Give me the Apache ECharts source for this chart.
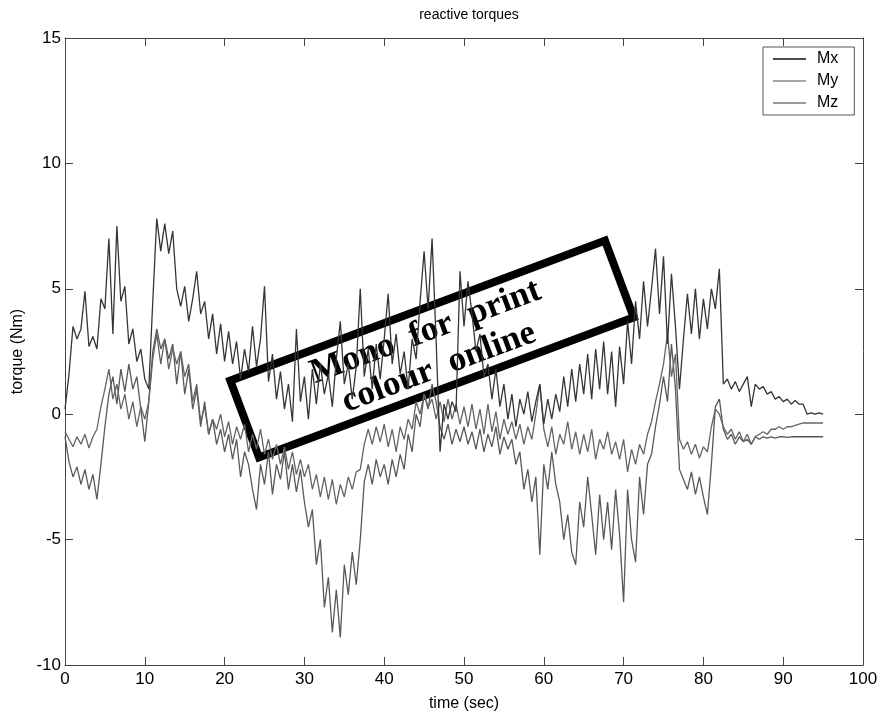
<!DOCTYPE html>
<html>
<head>
<meta charset="utf-8">
<title>reactive torques</title>
<script src="https://cdn.jsdelivr.net/npm/echarts@6/dist/echarts.min.js"></script>
<style>
  html, body { margin: 0; padding: 0; background: #fff; }
  #chart { width: 881px; height: 719px; }
</style>
</head>
<body>
<div id="chart"></div>
<script>
// 采样步长 (sec)
const STEP = 0.5

// x 轴刻度
const xTicks = [0, 10, 20, 30, 40, 50, 60, 70, 80, 90, 100]
// y 轴刻度
const yTicks = [-10, -5, 0, 5, 10, 15]

const seriesNames = ['Mx', 'My', 'Mz']

// Mx, 每行 5 秒
const mx = [
  0.2, 1.6, 3.5, 3.0, 3.4, 4.9, 2.7, 3.1, 2.6, 4.6,
  4.2, 7.0, 3.2, 7.5, 4.5, 5.1, 2.8, 3.4, 2.1, 2.6,
  1.4, 1.0, 4.5, 7.8, 6.5, 7.6, 6.4, 7.3, 5.0, 4.3,
  5.1, 3.7, 4.6, 5.7, 4.0, 4.5, 3.0, 4.0, 2.4, 3.6,
  2.1, 3.3, 2.0, 2.9, 1.4, 2.6, 1.7, 3.5, 1.9, 3.0,
  5.1, 1.3, 2.4, 0.6, 1.7, 0.2, 1.2, -0.3, 3.4, 0.5,
  1.5, -0.2, 1.8, 0.4, 2.0, 0.8, 1.6, 0.3, 2.2, 3.7,
  1.2, 2.0, 0.6, 1.9, 5.0, 1.5, 2.6, 1.0, 2.8, 1.4,
  3.0, 4.8, 2.0, 3.2, 1.6, 2.5, 1.0, 3.0, 2.2, 4.5,
  6.5, 4.2, 7.0, 3.0, -1.5, 0.4, -0.2, 0.5, 0.1, 5.7,
  3.5, 5.3, 4.0, 2.5, 3.2, 1.5, 2.0, 0.6, 1.8, 0.3,
  1.2, -0.2, 0.8, -0.5, 0.6, 0.0, 0.9, -0.3, 0.5, 1.2,
  -0.4, 0.6, -0.2, 0.8, 0.1, 1.5, 0.3, 1.8, 0.5, 2.0,
  0.8, 2.4, 0.6, 2.6, 1.0, 2.9, 0.8, 2.5, 0.3, 2.7,
  1.2, 3.7, 2.0, 4.5, 3.0, 5.3, 3.5, 5.0, 6.6, 4.0,
  6.3, 2.8, 5.6, 3.5, 1.0, 3.0, 4.8, 3.2, 5.0, 3.0,
  4.6, 3.4, 5.0, 4.2, 5.8, 1.2, 1.4, 1.0, 1.3, 0.9,
  1.2, 1.5, 0.3, 1.2, 1.0, 1.1, 0.8, 0.9, 0.6, 0.7,
  0.5, 0.6, 0.4, 0.55, 0.4, 0.4, 0.0, 0.05, 0.0, 0.05,
  0.0
]

// My
const my = [
  -0.9, -1.9, -2.5, -2.1, -2.8, -2.2, -3.0, -2.4, -3.4, -2.0,
  -0.5, 0.8, 1.5, 0.4, 1.8, 0.9, 2.0, 1.0, 1.5, 0.2,
  -1.1, 0.5, 2.5, 3.4, 2.6, 3.0, 2.2, 2.8, 1.2, 2.5,
  0.8, 1.8, 0.2, 1.0, -0.5, 0.5, -0.8, -0.2, -1.2, -0.6,
  -1.5, -0.8, -1.8, -1.0, -2.5, -1.5, -2.0, -3.0, -3.8, -2.0,
  -2.8, -1.5, -3.2, -2.0, -2.6, -1.5, -3.0, -2.0, -3.1, -2.2,
  -3.5, -4.5, -3.8, -6.0, -5.0, -7.7, -6.5, -8.7, -7.0, -8.9,
  -6.0, -7.2, -5.5, -6.8, -5.0, -2.7, -2.0, -2.8, -1.8, -2.5,
  -2.0, -2.8, -1.8, -2.5, -1.6, -2.2, -0.8, -1.5, 0.0, -0.5,
  0.8, 0.2, 1.2, 0.5, -0.5, -1.0, -0.4, -1.2, -0.6, -1.1,
  -0.5, -1.2, -0.7, -1.4, -0.6, -1.5, -0.8, -1.3, -0.5, -1.6,
  -0.9, -1.4, -1.0, -2.0, -1.5, -3.0, -2.2, -3.5, -2.5, -5.6,
  -2.0, -3.0, -1.5, -2.8, -3.5, -5.0, -4.0, -5.5, -6.0, -3.5,
  -4.5, -2.5, -4.0, -5.6, -3.2, -5.0, -3.5, -5.4, -3.0, -4.8,
  -7.5, -3.0, -5.0, -5.9, -2.5, -4.0, -2.0, -1.6, -0.5, 0.4,
  1.5, 0.5, 2.8, 1.0, -2.2, -2.6, -3.0, -2.3, -3.2, -2.5,
  -3.3, -4.0, -2.0, 0.3, 0.6, -0.6, -1.0, -0.8, -1.2, -0.9,
  -1.1, -1.0, -1.2, -0.9, -1.0, -0.9, -0.95, -0.9, -0.95, -0.9,
  -0.9, -0.92, -0.9, -0.9, -0.9, -0.9, -0.9, -0.9, -0.9, -0.9,
  -0.9
]

// Mz
const mz = [
  -0.7, -1.0, -1.3, -0.9, -1.2, -0.8, -1.35, -0.9, -0.6, 0.3,
  1.0, 1.8, 0.6, 1.2, 0.2, 0.8, -0.2, 0.5, -0.5, 0.3,
  -0.2, 0.5, 2.2, 3.2, 2.0, 3.0, 1.8, 2.6, 2.0, 2.5,
  1.5, 2.0, 0.5, 1.2, -0.3, 0.3, -0.8, -0.2, -0.6, 0.0,
  -0.9, -0.3, -1.2, -0.5, -1.0, -0.4, -1.5, -0.8, -1.4, -0.6,
  -1.6, -1.0, -1.8, -1.2, -2.0, -1.3, -2.2, -1.5, -2.4, -1.8,
  -2.5, -2.0, -3.0, -2.4, -3.3, -2.5, -3.4, -2.6, -3.6, -2.8,
  -3.3, -2.5, -3.0, -2.3, -2.2, -1.2, -0.6, -1.2, -0.5, -1.1,
  -0.4, -1.3, -0.6, -1.5, -0.5, -1.0, -0.2, -0.6, 0.5, 0.0,
  0.8, 0.3, 0.6, -0.2, 0.5, -0.3, 0.6, -0.2, 0.4, -0.4,
  0.3, -0.5, 0.4, -0.6, 0.2, -0.8, 0.4, -0.7, 0.1, -1.0,
  -0.2, -0.8, -0.3, -1.0, -0.4, -1.2, -0.5, -1.0, 0.0, 1.2,
  -0.6, -1.3, -0.5, -1.6, -0.8, -1.2, -0.3, -1.4, -0.7, -1.6,
  -0.8, -1.5, -0.6, -1.8, -1.0, -1.4, -0.7, -1.6, -1.1, -1.8,
  -1.0, -2.3, -1.4, -2.0, -1.2, -1.6, -0.8, -0.3, 0.5, 1.2,
  2.0, 3.2, 1.5, 2.4, -1.0, -1.4, -1.1, -1.6, -1.2, -1.75,
  -1.3, -1.5, -0.5, 0.2, 0.0, -0.5, -0.8, -0.6, -1.0, -0.7,
  -1.1, -0.8, -1.2, -0.9, -0.8, -0.7, -0.8, -0.6, -0.6, -0.5,
  -0.6, -0.5, -0.5, -0.45, -0.4, -0.35, -0.35, -0.35, -0.35, -0.35,
  -0.35
]

// 转成 [time, value]
const toPairs = (arr) => arr.map((v, i) => [i * STEP, v])

const chart = echarts.init(document.getElementById('chart'))

const font = 'Liberation Sans, Arial, sans-serif'

const axisCommon = {
  axisLine: { show: true, onZero: false, lineStyle: { color: '#444', width: 1 } },
  axisTick: { show: true, inside: true, length: 8, lineStyle: { color: '#444' } },
  splitLine: { show: false }
}

const options = {
  animation: false,
  backgroundColor: '#fff',
  title: {
    text: 'reactive torques',
    left: 464,
    top: 3,
    textAlign: 'center',
    textStyle: { fontFamily: font, fontSize: 14, fontWeight: 'normal', color: '#000' }
  },
  legend: {
    orient: 'vertical',
    left: 763,
    top: 47,
    padding: [4, 16, 4, 10],
    itemGap: 6,
    itemWidth: 33,
    itemHeight: 1.5,
    icon: 'rect',
    backgroundColor: '#fff',
    borderColor: '#555',
    borderWidth: 1,
    textStyle: { fontFamily: font, fontSize: 16, color: '#000', padding: [0, 0, 0, 6] },
    data: [
      { name: seriesNames[0], itemStyle: { color: '#111' } },
      { name: seriesNames[1], itemStyle: { color: '#888' } },
      { name: seriesNames[2], itemStyle: { color: '#777' } }
    ]
  },
  grid: { left: 65, right: 18, top: 38, bottom: 54 },
  xAxis: [
    {
      type: 'value',
      min: xTicks[0],
      max: xTicks[xTicks.length - 1],
      interval: 10,
      position: 'bottom',
      name: 'time (sec)',
      nameLocation: 'middle',
      nameGap: 31,
      nameTextStyle: { fontFamily: font, fontSize: 16, color: '#000' },
      axisLabel: { fontFamily: font, fontSize: 17, color: '#000', margin: 6 },
      ...axisCommon
    },
    {
      type: 'value',
      min: xTicks[0],
      max: xTicks[xTicks.length - 1],
      interval: 10,
      position: 'top',
      axisLabel: { show: false },
      ...axisCommon
    }
  ],
  yAxis: [
    {
      type: 'value',
      min: yTicks[0],
      max: yTicks[yTicks.length - 1],
      interval: 5,
      position: 'left',
      name: 'torque (Nm)',
      nameLocation: 'middle',
      nameGap: 37,
      nameTextStyle: { fontFamily: font, fontSize: 16, color: '#000' },
      axisLabel: { fontFamily: font, fontSize: 17, color: '#000', margin: 4 },
      ...axisCommon
    },
    {
      type: 'value',
      min: yTicks[0],
      max: yTicks[yTicks.length - 1],
      interval: 5,
      position: 'right',
      axisLabel: { show: false },
      ...axisCommon
    }
  ],
  series: [
    {
      name: seriesNames[1],
      type: 'line',
      showSymbol: false,
      symbol: 'none',
      lineStyle: { color: '#585858', width: 1.3 },
      itemStyle: { color: '#888' },
      data: toPairs(my)
    },
    {
      name: seriesNames[2],
      type: 'line',
      showSymbol: false,
      symbol: 'none',
      lineStyle: { color: '#646464', width: 1.3 },
      itemStyle: { color: '#777' },
      data: toPairs(mz)
    },
    {
      name: seriesNames[0],
      type: 'line',
      showSymbol: false,
      symbol: 'none',
      lineStyle: { color: '#353535', width: 1.3 },
      itemStyle: { color: '#111' },
      data: toPairs(mx)
    }
  ],
  // 斜放的标注框
  graphic: {
    elements: [
      {
        type: 'group',
        x: 432,
        y: 349,
        rotation: (20.5 * Math.PI) / 180,
        z: 100,
        children: [
          {
            type: 'rect',
            shape: { x: -200, y: -41, width: 400, height: 82 },
            style: { fill: '#fff', stroke: '#000', lineWidth: 8 }
          },
          {
            type: 'text',
            x: 0,
            y: -18,
            style: {
              text: 'Mono  for  print',
              fill: '#000',
              font: 'bold 35px "Liberation Serif", "Times New Roman", serif',
              align: 'center',
              verticalAlign: 'middle'
            }
          },
          {
            type: 'text',
            x: 0,
            y: 20,
            style: {
              text: 'colour  online',
              fill: '#000',
              font: 'bold 35px "Liberation Serif", "Times New Roman", serif',
              align: 'center',
              verticalAlign: 'middle'
            }
          }
        ]
      }
    ]
  }
}

chart.setOption(options)
</script>
</body>
</html>
